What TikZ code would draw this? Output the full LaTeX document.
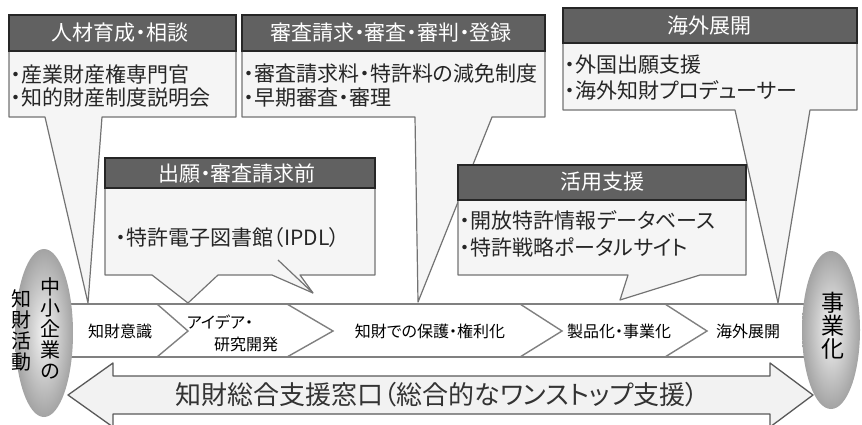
\documentclass[tikz,border=0pt]{standalone}
\usepackage{fontspec}
\setmainfont{Noto Sans CJK JP}[RawFeature=+palt]
\usepackage{tikz}
\usetikzlibrary{shapes.geometric,positioning}

\begin{document}
\begin{tikzpicture}[x=1pt,y=-1pt,
    hdr/.style={draw=black!85,line width=2pt,fill=black!62},
    hdrtext/.style={text=white!93,font=\fontsize{21}{21}\selectfont,inner sep=0pt},
    body/.style={draw=black!55,line width=1.2pt,fill=black!4,line join=round},
    bodytext/.style={anchor=west,text=black!85,font=\fontsize{21}{21}\selectfont,inner sep=0pt},
    stage/.style={text=black,font=\fontsize{16}{18}\selectfont,inner sep=0pt},
    band/.style={draw=black!50,line width=1.4pt},
    blob/.style={ellipse,shading=radial,inner color=gray!8,outer color=gray!72,inner sep=0pt},
    vtext/.style={align=center,inner sep=0pt,text=black}]
    \clip (0,0) rectangle (862,424);

    % process band
    \draw[band] (44,304) -- (831,304);
    \draw[band] (44,357) -- (831,357);
    \draw[band] (157,304) -- (188,331) -- (157,357);
    \draw[band] (287,304) -- (333,331) -- (287,357);
    \draw[band] (520,304) -- (562,331) -- (520,357);
    \draw[band] (665,304) -- (707,331) -- (665,357);
    \node[stage] (s1) at (120,331) {知財意識};
    \node[stage] (s2a) at (220,322) {アイデア・};
    \node[stage] (s2b) at (246,344) {研究開発};
    \node[stage] (s3) at (430,331) {知財での保護・権利化};
    \node[stage] (s4) at (619,331) {製品化・事業化};
    \node[stage] (s5) at (748,331) {海外展開};

    % support desk arrow
    \draw[draw=black!65,line width=1.3pt,fill=black!5,line join=round]
        (68,395) -- (113,363) -- (113,376) -- (770,376) -- (770,363) -- (813,395)
        -- (770,427) -- (770,414) -- (113,414) -- (113,427) -- cycle;
    \node[text=black!80,font=\fontsize{26}{26}\selectfont,inner sep=0pt] (desk) at (437,395)
        {知財総合支援窓口（総合的なワンストップ支援）};

    % callouts
    \draw[body] (9,51) -- (236,51) -- (236,117) -- (102,117) -- (88,303) -- (45,117) -- (9,117) -- cycle;
    \draw[hdr] (9,15) rectangle (236,51);
    \node[hdrtext] (h1) at (120,33) {人材育成・相談};
    \node[bodytext] (b1a) at (11,74) {・産業財産権専門官};
    \node[bodytext] (b1b) at (11,98) {・知的財産制度説明会};

    \draw[body] (242,51) -- (545,51) -- (545,117) -- (492,117) -- (418,302) -- (415,117) -- (242,117) -- cycle;
    \draw[hdr] (242,15) rectangle (545,51);
    \node[hdrtext] (h2) at (391,33) {審査請求・審査・審判・登録};
    \node[bodytext] (b2a) at (244,74) {・審査請求料・特許料の減免制度};
    \node[bodytext] (b2b) at (244,98) {・早期審査・審理};

    \draw[body] (563,43) -- (857,43) -- (857,110) -- (810,110) -- (778,303) -- (735,110) -- (563,110) -- cycle;
    \draw[hdr] (563,8) rectangle (857,43);
    \node[hdrtext] (h3) at (709,26) {海外展開};
    \node[bodytext] (b3a) at (565,65) {・外国出願支援};
    \node[bodytext] (b3b) at (565,90) {・海外知財プロデューサー};

    \draw[body] (105,188) -- (375,188) -- (375,275) -- (300,275) -- (313,293) -- (272,275)
        -- (218,275) -- (188,303) -- (152,275) -- (105,275) -- cycle;
    \draw[body] (278,260) -- (313,293);
    \draw[hdr] (105,158) rectangle (375,188);
    \node[hdrtext] (h4) at (237,173) {出願・審査請求前};
    \node[bodytext] (b4) at (116,238) {・特許電子図書館（IPDL）};

    \draw[body] (458,200) -- (746,200) -- (746,275) -- (700,275) -- (620,300) -- (628,275) -- (458,275) -- cycle;
    \draw[hdr] (458,165) rectangle (746,200);
    \node[hdrtext] (h5) at (602,182) {活用支援};
    \node[bodytext] (b5a) at (460,220) {・開放特許情報データベース};
    \node[bodytext] (b5b) at (460,247) {・特許戦略ポータルサイト};

    % start and goal
    \node[blob,minimum width=58pt,minimum height=168pt] (start) at (44,333) {};
    \node[vtext,font=\fontsize{20}{21}\selectfont] (startA) at (50,328) {中\\小\\企\\業\\の};
    \node[vtext,font=\fontsize{20}{21}\selectfont] (startB) at (22,330) {知\\財\\活\\動};
    \node[blob,minimum width=58pt,minimum height=158pt] (goal) at (831,330) {};
    \node[vtext,font=\fontsize{23}{23}\selectfont] (goalA) at (833,326) {事\\業\\化};
\end{tikzpicture}
\end{document}
